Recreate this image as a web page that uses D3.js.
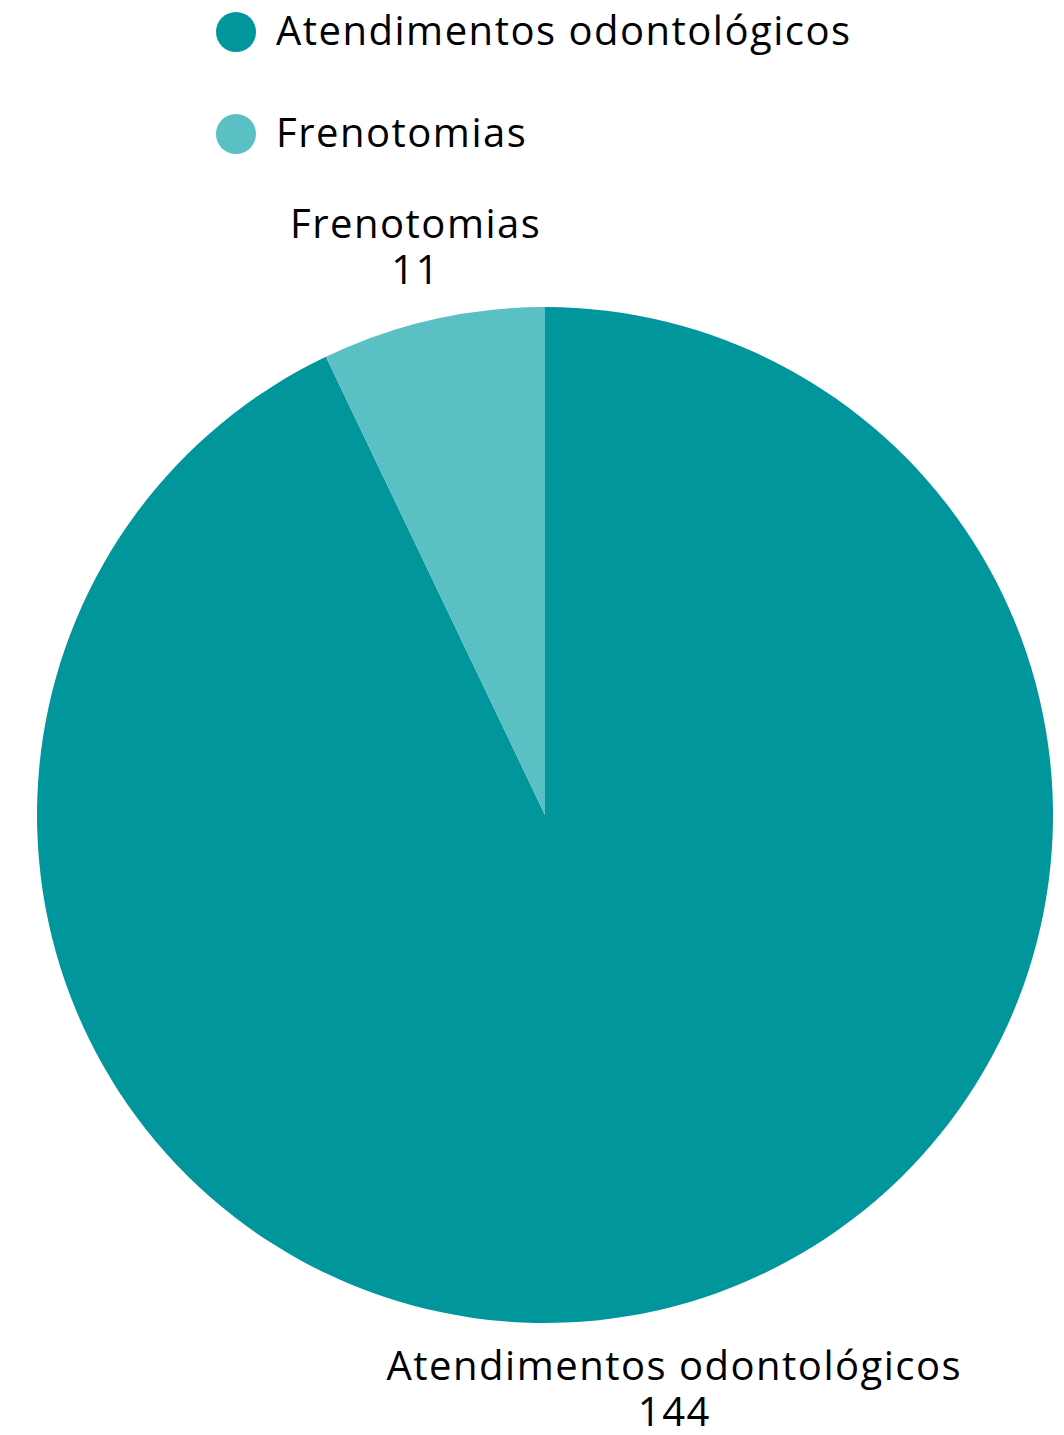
<!DOCTYPE html>
<html><head><meta charset="utf-8">
<script src="https://cdn.jsdelivr.net/npm/d3@7"></script>
<style>body{margin:0;background:#fff}svg{display:block}text{font-family:"Open Sans",sans-serif;fill:#000;letter-spacing:1.5px}</style>
</head><body>
<svg id="c" width="1064" height="1435"></svg>
<script>
const categories = ["Atendimentos odontológicos", "Frenotomias"];
const values = [144, 11];
const colors = ["#01959C", "#5BC0C3"];

const svg = d3.select("#c");
const cx = 545, cy = 815, R = 508, labelR = 585;
const fs = 40;

const pie = d3.pie().sort(null).value(d => d.v);
const data = pie(categories.map((c, i) => ({c, v: values[i], col: colors[i]})));
const arc = d3.arc().innerRadius(0).outerRadius(R);
const lab = d3.arc().innerRadius(labelR).outerRadius(labelR);

const g = svg.append("g").attr("transform", `translate(${cx},${cy})`);
g.selectAll("path").data(data).join("path").attr("d", arc).attr("fill", d => d.data.col);

const lg = g.selectAll("g.lab").data(data).join("g").attr("class","lab")
  .attr("transform", d => `translate(${lab.centroid(d)})`);
lg.append("text").attr("text-anchor","middle").attr("y",-6).attr("font-size",fs).text(d => d.data.c);
lg.append("text").attr("text-anchor","middle").attr("y",40).attr("font-size",fs).text(d => d.data.v);

const leg = svg.append("g").selectAll("g").data(categories).join("g")
  .attr("transform", (d,i) => `translate(236,${32 + i*102})`);
leg.append("circle").attr("r",20).attr("fill",(d,i)=>colors[i]);
leg.append("text").attr("x",40).attr("y",13).attr("font-size",fs).text(d=>d);
</script>
</body></html>
